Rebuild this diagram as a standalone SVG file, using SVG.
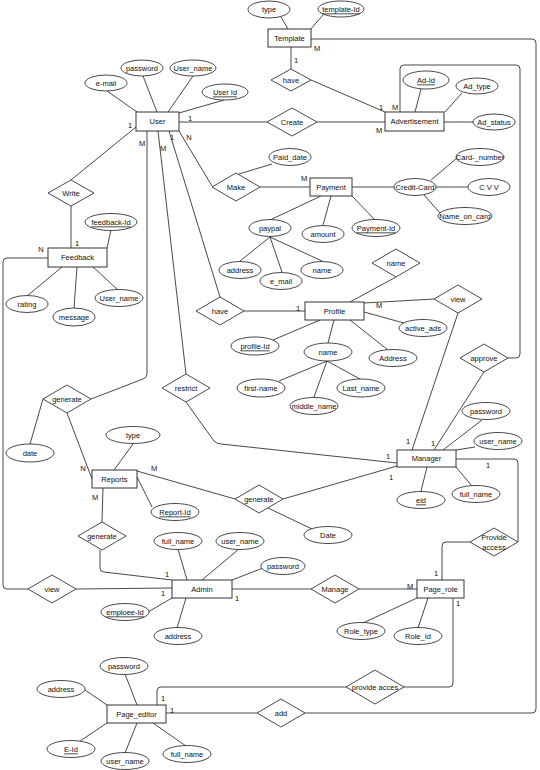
<svg xmlns="http://www.w3.org/2000/svg" width="540" height="770" viewBox="0 0 540 770">
<style>
text{font-family:"Liberation Sans",Arial,sans-serif;font-size:7.5px;fill:#111;text-anchor:middle;dominant-baseline:central}
.ent{fill:#fff;stroke:#333;stroke-width:1}
.attr{fill:#fff;stroke:#333;stroke-width:0.9}
.rel{fill:#fff;stroke:#333;stroke-width:0.9}
.ln{fill:none;stroke:#333;stroke-width:0.9}
.u{text-decoration:underline}
</style>
<rect x="0" y="0" width="540" height="770" fill="#fff"/>
<g id="connectors">
<line class="ln" x1="281" y1="17" x2="288" y2="29"/>
<line class="ln" x1="323" y1="15" x2="310" y2="30"/>
<line class="ln" x1="291" y1="47" x2="291" y2="69"/>
<line class="ln" x1="311" y1="80" x2="385" y2="112"/>
<path class="ln" d="M311,39 H532 Q536,39 536,43 V709 Q536,713 532,713 H305"/>
<line class="ln" x1="421" y1="89" x2="415" y2="112"/>
<line class="ln" x1="462" y1="93" x2="445" y2="112"/>
<line class="ln" x1="444" y1="122" x2="473" y2="122"/>
<path class="ln" d="M400,112 V69 Q400,65 404,65 H516 Q520,65 520,69 V354 Q520,358 516,358 H508"/>
<line class="ln" x1="317" y1="122" x2="385" y2="122"/>
<line class="ln" x1="179" y1="122" x2="267" y2="122"/>
<line class="ln" x1="107" y1="91" x2="137" y2="112"/>
<line class="ln" x1="143" y1="76" x2="157" y2="112"/>
<line class="ln" x1="193" y1="76" x2="168" y2="112"/>
<line class="ln" x1="224" y1="100" x2="179" y2="113"/>
<line class="ln" x1="136" y1="127" x2="71" y2="180"/>
<line class="ln" x1="71" y1="206" x2="71" y2="248"/>
<line class="ln" x1="179" y1="131" x2="212" y2="186"/>
<path class="ln" d="M147,131 V374 Q147,378 143,379 L91,399"/>
<line class="ln" x1="158" y1="131" x2="186" y2="374"/>
<line class="ln" x1="169" y1="131" x2="220" y2="297"/>
<line class="ln" x1="111" y1="230" x2="107" y2="248"/>
<line class="ln" x1="27" y1="296" x2="62" y2="267"/>
<line class="ln" x1="74" y1="308" x2="77" y2="267"/>
<line class="ln" x1="118" y1="290" x2="93" y2="267"/>
<path class="ln" d="M48,258 H7 Q3,258 3,262 V585 Q3,589 7,589 H28"/>
<line class="ln" x1="76" y1="589" x2="172" y2="588"/>
<line class="ln" x1="272" y1="164" x2="239" y2="174"/>
<line class="ln" x1="260" y1="187" x2="310" y2="187"/>
<line class="ln" x1="270" y1="220" x2="321" y2="196"/>
<line class="ln" x1="323" y1="225" x2="331" y2="196"/>
<line class="ln" x1="375" y1="220" x2="352" y2="196"/>
<line class="ln" x1="270" y1="237" x2="240" y2="261"/>
<line class="ln" x1="270" y1="237" x2="282" y2="272"/>
<line class="ln" x1="270" y1="237" x2="322" y2="261"/>
<line class="ln" x1="352" y1="187" x2="394" y2="187"/>
<line class="ln" x1="431" y1="180" x2="457" y2="158"/>
<line class="ln" x1="436" y1="187" x2="468" y2="187"/>
<line class="ln" x1="424" y1="195" x2="440" y2="213"/>
<line class="ln" x1="244" y1="311" x2="305" y2="311"/>
<line class="ln" x1="396" y1="277" x2="350" y2="302"/>
<line class="ln" x1="364" y1="303" x2="434" y2="299"/>
<line class="ln" x1="458" y1="313" x2="412" y2="450"/>
<line class="ln" x1="364" y1="312" x2="404" y2="323"/>
<line class="ln" x1="350" y1="320" x2="388" y2="350"/>
<line class="ln" x1="334" y1="320" x2="328" y2="343"/>
<line class="ln" x1="273" y1="340" x2="320" y2="320"/>
<line class="ln" x1="327" y1="361" x2="279" y2="381"/>
<line class="ln" x1="327" y1="361" x2="314" y2="397"/>
<line class="ln" x1="327" y1="361" x2="360" y2="379"/>
<path class="ln" d="M186,402 L214,441 Q217,444 221,444 L397,463"/>
<line class="ln" x1="484" y1="372" x2="434" y2="450"/>
<line class="ln" x1="482" y1="420" x2="443" y2="450"/>
<line class="ln" x1="475" y1="447" x2="456" y2="450"/>
<line class="ln" x1="456" y1="467" x2="472" y2="486"/>
<line class="ln" x1="421" y1="491" x2="427" y2="467"/>
<path class="ln" d="M456,459 H514 Q518,459 518,463 V542"/>
<path class="ln" d="M470,542 H446 Q442,542 442,546 V580"/>
<line class="ln" x1="283" y1="499" x2="397" y2="466"/>
<line class="ln" x1="43" y1="399" x2="30" y2="444"/>
<line class="ln" x1="67" y1="413" x2="92" y2="479"/>
<line class="ln" x1="133" y1="444" x2="114" y2="470"/>
<line class="ln" x1="152" y1="507" x2="137" y2="477"/>
<line class="ln" x1="137" y1="471" x2="235" y2="499"/>
<line class="ln" x1="268" y1="508" x2="312" y2="529"/>
<line class="ln" x1="103" y1="488" x2="102" y2="522"/>
<path class="ln" d="M100,550 V568 Q100,572 104,572 L172,580"/>
<line class="ln" x1="178" y1="549" x2="187" y2="580"/>
<line class="ln" x1="239" y1="549" x2="202" y2="580"/>
<line class="ln" x1="232" y1="580" x2="263" y2="568"/>
<line class="ln" x1="148" y1="612" x2="172" y2="598"/>
<line class="ln" x1="177" y1="628" x2="186" y2="598"/>
<line class="ln" x1="232" y1="589" x2="311" y2="589"/>
<line class="ln" x1="359" y1="589" x2="417" y2="589"/>
<line class="ln" x1="363" y1="623" x2="417" y2="598"/>
<line class="ln" x1="418" y1="628" x2="428" y2="598"/>
<path class="ln" d="M453,598 V683 Q453,687 449,687 H404"/>
<path class="ln" d="M346,687 H161 Q157,687 157,691 V705"/>
<line class="ln" x1="166" y1="713" x2="257" y2="713"/>
<line class="ln" x1="125" y1="674" x2="137" y2="705"/>
<line class="ln" x1="85" y1="690" x2="107" y2="705"/>
<line class="ln" x1="80" y1="741" x2="107" y2="723"/>
<line class="ln" x1="125" y1="753" x2="137" y2="723"/>
<line class="ln" x1="186" y1="746" x2="153" y2="723"/>
<text x="317" y="48">M</text>
<text x="296" y="60">1</text>
<text x="381" y="107">1</text>
<text x="395" y="107">M</text>
<text x="379" y="130">M</text>
<text x="190" y="118">1</text>
<text x="130" y="125">1</text>
<text x="77" y="243">1</text>
<text x="41" y="249">N</text>
<text x="142" y="143">M</text>
<text x="163" y="148">M</text>
<text x="172" y="137">1</text>
<text x="189" y="137">N</text>
<text x="304" y="178">M</text>
<text x="298" y="308">1</text>
<text x="379" y="305">M</text>
<text x="408" y="441">1</text>
<text x="433" y="443">1</text>
<text x="388" y="456">1</text>
<text x="391" y="477">1</text>
<text x="488" y="465">1</text>
<text x="436" y="573">1</text>
<text x="83" y="468">N</text>
<text x="154" y="468">M</text>
<text x="95" y="497">M</text>
<text x="167" y="574">1</text>
<text x="163" y="593">1</text>
<text x="237" y="598">1</text>
<text x="410" y="586">M</text>
<text x="458" y="603">1</text>
<text x="163" y="698">1</text>
<text x="172" y="710">1</text>
</g>
<g id="Template"><rect class="ent" x="268" y="29" width="43" height="18"/><text x="289.5" y="38">Template</text></g>
<g id="Advertisement"><rect class="ent" x="385" y="112" width="59" height="19"/><text x="414.5" y="121.5">Advertisement</text></g>
<g id="User"><rect class="ent" x="136" y="112" width="43" height="19"/><text x="157.5" y="121.5">User</text></g>
<g id="Payment"><rect class="ent" x="310" y="178" width="42" height="18"/><text x="331" y="187">Payment</text></g>
<g id="Feedback"><rect class="ent" x="48" y="248" width="59" height="19"/><text x="77.5" y="257.5">Feedback</text></g>
<g id="Profile"><rect class="ent" x="305" y="302" width="59" height="18"/><text x="334.5" y="311">Profile</text></g>
<g id="Reports"><rect class="ent" x="92" y="470" width="45" height="18"/><text x="114.5" y="479">Reports</text></g>
<g id="Manager"><rect class="ent" x="397" y="450" width="59" height="17"/><text x="426.5" y="458.5">Manager</text></g>
<g id="Admin"><rect class="ent" x="172" y="580" width="60" height="18"/><text x="202" y="589">Admin</text></g>
<g id="Page_role"><rect class="ent" x="417" y="580" width="47" height="18"/><text x="440.5" y="589">Page_role</text></g>
<g id="Page_editor"><rect class="ent" x="107" y="705" width="59" height="18"/><text x="136.5" y="714">Page_editor</text></g>
<g id="rel-have-template"><polygon class="rel" points="271,80 291,69 311,80 291,91"/><text x="291" y="80">have</text></g>
<g id="rel-create"><polygon class="rel" points="267,122 292,108 317,122 292,136"/><text x="292" y="122">Create</text></g>
<g id="rel-write"><polygon class="rel" points="48,193 71,180 94,193 71,206"/><text x="71" y="193">Write</text></g>
<g id="rel-make"><polygon class="rel" points="212,187 236,173 260,187 236,201"/><text x="236" y="187">Make</text></g>
<g id="rel-have-profile"><polygon class="rel" points="196,311 220,297 244,311 220,325"/><text x="220" y="311">have</text></g>
<g id="rel-name"><polygon class="rel" points="372,263 396,249 420,263 396,277"/><text x="396" y="263">name</text></g>
<g id="rel-view-profile"><polygon class="rel" points="434,299 458,285 482,299 458,313"/><text x="458" y="299">view</text></g>
<g id="rel-approve"><polygon class="rel" points="460,358 484,344 508,358 484,372"/><text x="484" y="358">approve</text></g>
<g id="rel-restrict"><polygon class="rel" points="162,388 186,374 210,388 186,402"/><text x="186" y="388">restrict</text></g>
<g id="rel-generate-1"><polygon class="rel" points="43,399 67,385 91,399 67,413"/><text x="67" y="399">generate</text></g>
<g id="rel-generate-2"><polygon class="rel" points="235,499 259,485 283,499 259,513"/><text x="259" y="499">generate</text></g>
<g id="rel-generate-3"><polygon class="rel" points="78,536 102,522 126,536 102,550"/><text x="102" y="536">generate</text></g>
<g id="rel-provide-access"><polygon class="rel" points="470,542 494,528 518,542 494,556"/><text x="494" y="537">Provide</text><text x="494" y="547">access</text></g>
<g id="rel-view-admin"><polygon class="rel" points="28,589 52,575 76,589 52,603"/><text x="52" y="589">view</text></g>
<g id="rel-manage"><polygon class="rel" points="311,589 335,575 359,589 335,603"/><text x="335" y="589">Manage</text></g>
<g id="rel-provide-acces"><polygon class="rel" points="346,687 375,670 404,687 375,704"/><text x="375" y="687">provide acces</text></g>
<g id="rel-add"><polygon class="rel" points="257,713 281,699 305,713 281,727"/><text x="281" y="713">add</text></g>
<g id="attr-template-type"><ellipse class="attr" cx="269" cy="9.5" rx="21" ry="8.5"/><text x="269" y="9.5">type</text></g>
<g id="attr-template-id"><ellipse class="attr" cx="341" cy="9" rx="23" ry="8"/><text class="u" x="341" y="9">template-Id</text></g>
<g id="attr-ad-id"><ellipse class="attr" cx="426" cy="80" rx="23" ry="9"/><text class="u" x="426" y="80">Ad-Id</text></g>
<g id="attr-ad-type"><ellipse class="attr" cx="477" cy="86" rx="21" ry="8"/><text x="477" y="86">Ad_type</text></g>
<g id="attr-ad-status"><ellipse class="attr" cx="494" cy="122" rx="21" ry="8"/><text x="494" y="122">Ad_status</text></g>
<g id="attr-user-email"><ellipse class="attr" cx="106" cy="83" rx="21" ry="8"/><text x="106" y="83">e-mail</text></g>
<g id="attr-user-password"><ellipse class="attr" cx="142" cy="68" rx="21" ry="8"/><text x="142" y="68">password</text></g>
<g id="attr-user-name"><ellipse class="attr" cx="193" cy="68" rx="23" ry="8"/><text x="193" y="68">User_name</text></g>
<g id="attr-user-id"><ellipse class="attr" cx="225" cy="92" rx="23" ry="8"/><text class="u" x="225" y="92">User Id</text></g>
<g id="attr-feedback-id"><ellipse class="attr" cx="111" cy="222" rx="26" ry="8.5"/><text class="u" x="111" y="222">feedback-Id</text></g>
<g id="attr-rating"><ellipse class="attr" cx="27" cy="304" rx="21" ry="8.5"/><text x="27" y="304">rating</text></g>
<g id="attr-message"><ellipse class="attr" cx="74" cy="317" rx="21" ry="9"/><text x="74" y="317">message</text></g>
<g id="attr-feedback-username"><ellipse class="attr" cx="119" cy="298" rx="24" ry="8.5"/><text x="119" y="298">User_name</text></g>
<g id="attr-paid-date"><ellipse class="attr" cx="290" cy="157" rx="21" ry="8.5"/><text x="290" y="157">Paid_date</text></g>
<g id="attr-paypal"><ellipse class="attr" cx="270" cy="228" rx="21" ry="8.5"/><text x="270" y="228">paypal</text></g>
<g id="attr-amount"><ellipse class="attr" cx="323" cy="234" rx="21" ry="8.5"/><text x="323" y="234">amount</text></g>
<g id="attr-payment-id"><ellipse class="attr" cx="376" cy="228" rx="24" ry="8.5"/><text class="u" x="376" y="228">Payment-Id</text></g>
<g id="attr-paypal-address"><ellipse class="attr" cx="240" cy="270" rx="21" ry="8.5"/><text x="240" y="270">address</text></g>
<g id="attr-paypal-email"><ellipse class="attr" cx="281" cy="281" rx="21" ry="8.5"/><text x="281" y="281">e_mail</text></g>
<g id="attr-paypal-name"><ellipse class="attr" cx="322" cy="270" rx="21" ry="8.5"/><text x="322" y="270">name</text></g>
<g id="attr-credit-card"><ellipse class="attr" cx="415" cy="187" rx="21" ry="8.5"/><text x="415" y="187">Credit-Card</text></g>
<g id="attr-card-number"><ellipse class="attr" cx="480" cy="157" rx="24" ry="8.5"/><text x="480" y="157">Card-_number</text></g>
<g id="attr-cvv"><ellipse class="attr" cx="489" cy="187" rx="21" ry="8.5"/><text x="489" y="187">C V V</text></g>
<g id="attr-name-on-card"><ellipse class="attr" cx="465" cy="216" rx="27" ry="8.5"/><text x="465" y="216">Name_on_card</text></g>
<g id="attr-active-ads"><ellipse class="attr" cx="423" cy="328" rx="24" ry="8.5"/><text x="423" y="328">active_ads</text></g>
<g id="attr-profile-address"><ellipse class="attr" cx="393" cy="358" rx="24" ry="8.5"/><text x="393" y="358">Address</text></g>
<g id="attr-profile-name"><ellipse class="attr" cx="328" cy="352" rx="24" ry="9"/><text x="328" y="352">name</text></g>
<g id="attr-profile-id"><ellipse class="attr" cx="255" cy="346" rx="24" ry="9"/><text class="u" x="255" y="346">profile-Id</text></g>
<g id="attr-first-name"><ellipse class="attr" cx="261" cy="388" rx="24" ry="9"/><text x="261" y="388">first-name</text></g>
<g id="attr-middle-name"><ellipse class="attr" cx="314" cy="406" rx="24" ry="8.5"/><text x="314" y="406">middle_name</text></g>
<g id="attr-last-name"><ellipse class="attr" cx="361" cy="388" rx="24" ry="9"/><text x="361" y="388">Last_name</text></g>
<g id="attr-date"><ellipse class="attr" cx="30" cy="453" rx="24" ry="9"/><text x="30" y="453">date</text></g>
<g id="attr-report-type"><ellipse class="attr" cx="133" cy="435" rx="27" ry="8.5"/><text x="133" y="435">type</text></g>
<g id="attr-report-id"><ellipse class="attr" cx="175" cy="512" rx="24" ry="8.5"/><text class="u" x="175" y="512">Report-Id</text></g>
<g id="attr-Date"><ellipse class="attr" cx="328" cy="535" rx="24" ry="8.5"/><text x="328" y="535">Date</text></g>
<g id="attr-manager-password"><ellipse class="attr" cx="486" cy="411" rx="24" ry="8.5"/><text x="486" y="411">password</text></g>
<g id="attr-manager-username"><ellipse class="attr" cx="498" cy="441" rx="24" ry="8.5"/><text x="498" y="441">user_name</text></g>
<g id="attr-manager-fullname"><ellipse class="attr" cx="476" cy="494" rx="24" ry="8.5"/><text x="476" y="494">full_name</text></g>
<g id="attr-eid"><ellipse class="attr" cx="421" cy="500" rx="24" ry="8.5"/><text class="u" x="421" y="500">eid</text></g>
<g id="attr-admin-fullname"><ellipse class="attr" cx="178" cy="541" rx="24" ry="8.5"/><text x="178" y="541">full_name</text></g>
<g id="attr-admin-username"><ellipse class="attr" cx="240" cy="541" rx="24" ry="8.5"/><text x="240" y="541">user_name</text></g>
<g id="attr-admin-password"><ellipse class="attr" cx="283" cy="566" rx="22" ry="8.5"/><text x="283" y="566">password</text></g>
<g id="attr-emploee-id"><ellipse class="attr" cx="125" cy="612" rx="24" ry="8.5"/><text class="u" x="125" y="612">emploee-Id</text></g>
<g id="attr-admin-address"><ellipse class="attr" cx="178" cy="636" rx="24" ry="8.5"/><text x="178" y="636">address</text></g>
<g id="attr-role-type"><ellipse class="attr" cx="361" cy="631" rx="24" ry="8.5"/><text x="361" y="631">Role_type</text></g>
<g id="attr-role-id"><ellipse class="attr" cx="418" cy="636" rx="24" ry="8.5"/><text x="418" y="636">Role_Id</text></g>
<g id="attr-pe-password"><ellipse class="attr" cx="124" cy="666" rx="24" ry="8.5"/><text x="124" y="666">password</text></g>
<g id="attr-pe-address"><ellipse class="attr" cx="61" cy="689" rx="24" ry="8.5"/><text x="61" y="689">address</text></g>
<g id="attr-pe-eid"><ellipse class="attr" cx="71" cy="749" rx="24" ry="8.5"/><text class="u" x="71" y="749">E-Id</text></g>
<g id="attr-pe-username"><ellipse class="attr" cx="125" cy="761" rx="24" ry="8.5"/><text x="125" y="761">user_name</text></g>
<g id="attr-pe-fullname"><ellipse class="attr" cx="187" cy="754" rx="24" ry="8.5"/><text x="187" y="754">full_name</text></g>
</svg>
